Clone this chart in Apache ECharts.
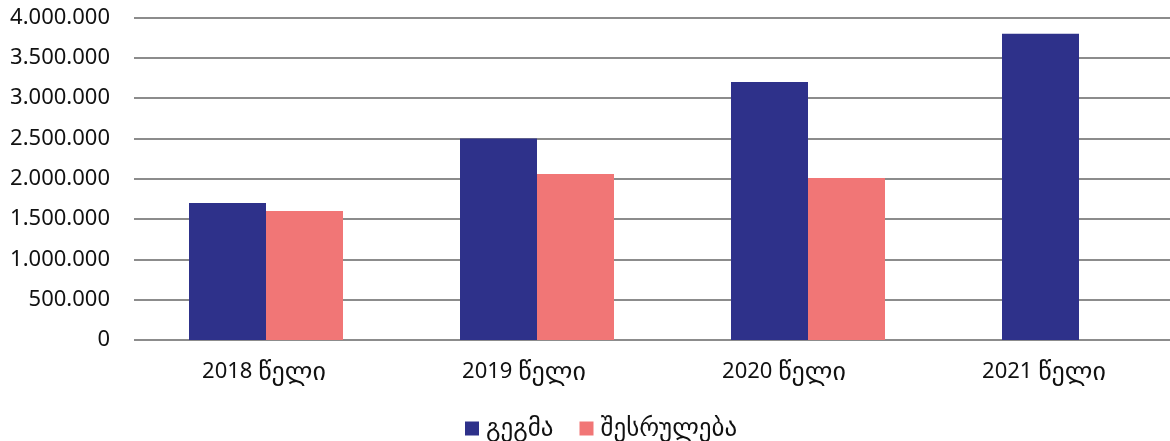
<!DOCTYPE html>
<html>
<head>
<meta charset="utf-8">
<script src="https://cdn.jsdelivr.net/npm/echarts@6/dist/echarts.min.js"></script>
<style>
  html, body { margin: 0; padding: 0; background: #fff; }
  #chart { width: 1170px; height: 441px; }
</style>
</head>
<body>
<div id="chart"></div>
<script>
// Years shown on the category axis
const categories = ['2018 წელი', '2019 წელი', '2020 წელი', '2021 წელი'];
// Series names
const seriesNames = ['გეგმა', 'შესრულება'];
// Planned amounts
const planValues = [1700000, 2500000, 3200000, 3800000];
// Executed amounts (no figure for 2021)
const doneValues = [1600000, 2060000, 2010000, null];
// Value axis range
const yMin = 0;
const yMax = 4000000;
const yStep = 500000;

const FONT = '"Noto Sans", "DejaVu Sans", sans-serif';

// Thousands separated by dots: 1500000 -> 1.500.000
function fmt(v) {
  return String(Math.round(v)).replace(/\B(?=(\d{3})+(?!\d))/g, '.');
}

// Year in one style, the Georgian word in a slightly larger one
function catLabel(v) {
  const i = v.indexOf(' ');
  return '{y|' + v.slice(0, i) + ' }{g|' + v.slice(i + 1) + '}';
}

const chart = echarts.init(document.getElementById('chart'), null, { renderer: 'canvas' });

chart.setOption({
  animation: false,
  backgroundColor: '#ffffff',
  textStyle: { fontFamily: FONT },
  grid: [
    // axes, labels and gridlines
    { left: 134, top: 17.5, width: 1040, height: 322.5, outerBoundsMode: 'none' },
    // bar layout (runs past the right edge of the canvas)
    { left: 130.5, top: 17.5, width: 1084, height: 322.5, outerBoundsMode: 'none' }
  ],
  legend: {
    data: seriesNames,
    left: 465,
    top: 416,
    padding: 0,
    icon: 'rect',
    itemWidth: 14,
    itemHeight: 14,
    itemGap: 26,
    textStyle: { fontFamily: FONT, fontSize: 25, lineHeight: 22, color: '#111', padding: [0, 0, 0, 2] }
  },
  xAxis: [
    {
      gridIndex: 0,
      type: 'category',
      data: categories,
      axisLine: { show: false },
      axisTick: { show: false },
      axisLabel: {
        margin: 19,
        formatter: catLabel,
        rich: {
          y: { fontFamily: FONT, fontSize: 22, color: '#111', lineHeight: 26 },
          g: { fontFamily: FONT, fontSize: 26, color: '#111', lineHeight: 26, padding: [2, 0, 0, 0] }
        }
      }
    },
    {
      gridIndex: 1,
      type: 'category',
      data: categories,
      show: false
    }
  ],
  yAxis: [
    {
      gridIndex: 0,
      type: 'value',
      min: yMin,
      max: yMax,
      interval: yStep,
      axisLine: { show: false },
      axisTick: { show: false },
      splitLine: { lineStyle: { color: '#666666', width: 1.6 } },
      axisLabel: {
        fontFamily: FONT, fontSize: 22, color: '#111', margin: 24,
        formatter: fmt
      }
    },
    {
      gridIndex: 1,
      type: 'value',
      min: yMin,
      max: yMax,
      interval: yStep,
      show: false,
      splitLine: { show: false }
    }
  ],
  series: [
    {
      name: seriesNames[0],
      type: 'bar',
      xAxisIndex: 1,
      yAxisIndex: 1,
      data: planValues,
      barWidth: 77,
      barGap: '0%',
      itemStyle: { color: '#2E318A' }
    },
    {
      name: seriesNames[1],
      type: 'bar',
      xAxisIndex: 1,
      yAxisIndex: 1,
      data: doneValues,
      barWidth: 77,
      barGap: '0%',
      itemStyle: { color: '#F17676' }
    }
  ]
});
</script>
</body>
</html>
